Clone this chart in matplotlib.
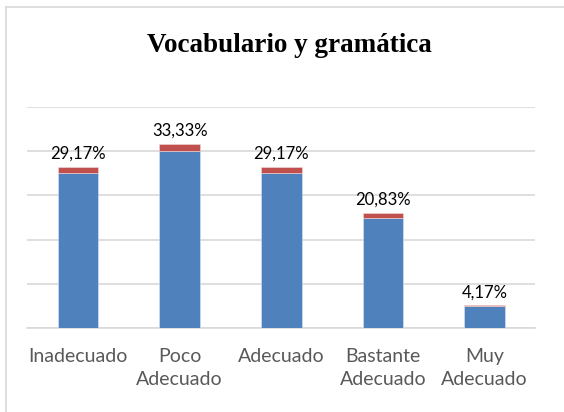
import matplotlib
matplotlib.use("Agg")
import matplotlib.pyplot as plt
from matplotlib.lines import Line2D

categories = ["Inadecuado", "Poco\nAdecuado", "Adecuado", "Bastante\nAdecuado", "Muy\nAdecuado"]
counts = [7, 8, 7, 5, 1]
fractions = [0.2917, 0.3333, 0.2917, 0.2083, 0.0417]
title = "Vocabulario y gramática"

blue = "#4F81BD"
red = "#C0504D"
grid = "#D9D9D9"

fig = plt.figure(figsize=(5.64, 4.12), dpi=100)
ax = fig.add_axes([27.3/564, 1-328.3/412, (535.3-27.3)/564, (328.3-106.7)/412])

x = list(range(len(categories)))
ax.bar(x, counts, width=0.4, color=blue, edgecolor="#DCE6F2", linewidth=0.4, zorder=3)
ax.bar(x, fractions, width=0.4, bottom=counts, color=red, edgecolor="#F2DCDB", linewidth=0.4, zorder=3)

for xi, c, f in zip(x, counts, fractions):
    lbl = f"{f*100:.2f}%".replace(".", ",")
    ax.annotate(lbl, (xi, c + f), xytext=(0, 3.5), textcoords="offset points",
                ha="center", va="bottom", fontsize=12, family="Lato", color="black", zorder=4)

ax.set_xlim(-0.5, len(categories) - 0.5)
ax.set_ylim(0, 10)
ax.set_yticks([0, 2, 4, 6, 8, 10])
ax.yaxis.grid(True, color=grid, linewidth=1.2, zorder=0)
ax.set_yticklabels([])
ax.tick_params(axis="y", length=0)
ax.set_xticks(x)
ax.set_xticklabels(categories, fontsize=14, family="Lato", color="#595959", linespacing=1.45)
ax.tick_params(axis="x", length=0, pad=14)
for s in ["top", "right", "left"]:
    ax.spines[s].set_visible(False)
ax.spines["bottom"].set_color(grid)
ax.spines["bottom"].set_linewidth(1.2)

fig.text(289/564, 1 - 45/412, title, ha="center", va="center", fontsize=19.5,
         family="Liberation Serif", fontweight="bold", color="black")

# chart border (left and top)
fig.add_artist(Line2D([6/564, 6/564], [0, 1 - 7/412], transform=fig.transFigure, color=grid, linewidth=1.2))
fig.add_artist(Line2D([6/564, 1], [1 - 7/412, 1 - 7/412], transform=fig.transFigure, color=grid, linewidth=1.2))

fig.savefig("out.png", dpi=100)
